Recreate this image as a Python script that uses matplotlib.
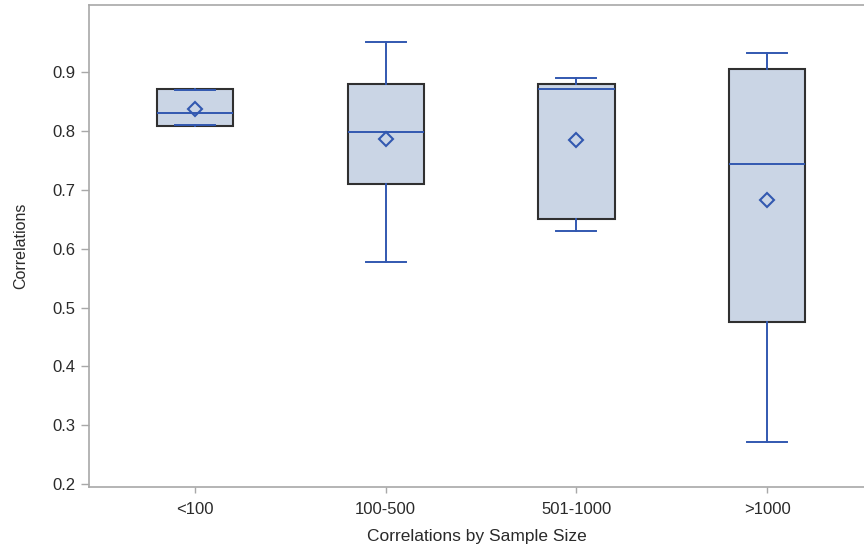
import numpy as np
import matplotlib.pyplot as plt

plt.rcParams['font.family'] = ['Liberation Sans', 'DejaVu Sans']

# box plot summary
groups = ['<100', '100-500', '501-1000', '>1000']
whislo = [0.810, 0.578, 0.630, 0.271]
q1 = [0.808, 0.710, 0.650, 0.475]
med = [0.830, 0.798, 0.871, 0.744]
q3 = [0.871, 0.880, 0.880, 0.905]
whishi = [0.870, 0.950, 0.890, 0.932]
means = [0.837, 0.786, 0.785, 0.682]

blue = '#3258B0'
fill = '#CAD5E5'
grey = '#A8A8A8'

stats = []
for i in range(len(groups)):
    stats.append(dict(label=groups[i], whislo=whislo[i], q1=q1[i], med=med[i],
                      q3=q3[i], whishi=whishi[i], mean=means[i], fliers=[]))

fig = plt.figure(figsize=(8.64, 5.48), dpi=100)
ax = fig.add_axes([0.103, 0.112, 0.897, 0.878])

ax.bxp(stats, positions=np.arange(len(groups)), widths=0.40, capwidths=0.21,
       showmeans=True, patch_artist=True, zorder=2,
       boxprops=dict(facecolor=fill, edgecolor='#303030', linewidth=1.5),
       whiskerprops=dict(color=blue, linewidth=1.4),
       capprops=dict(color=blue, linewidth=1.4),
       medianprops=dict(color=blue, linewidth=1.4),
       meanprops=dict(marker='D', markerfacecolor='none', markeredgecolor=blue,
                      markeredgewidth=1.5, markersize=7))

ax.set_xlim(-0.556, 3.508)
ax.set_ylim(0.196, 1.0126)
ax.set_yticks([0.2, 0.3, 0.4, 0.5, 0.6, 0.7, 0.8, 0.9])
ax.set_yticklabels(['0.2', '0.3', '0.4', '0.5', '0.6', '0.7', '0.8', '0.9'])
ax.set_xticks(np.arange(len(groups)))
ax.set_xticklabels(groups)

for s in ['left', 'bottom', 'top']:
    ax.spines[s].set_color(grey)
    ax.spines[s].set_linewidth(1.2)
ax.spines['right'].set_visible(False)
ax.tick_params(colors=grey, labelcolor='#2a2a2a', labelsize=12, width=1)
ax.tick_params(axis='x', length=4, pad=7)
ax.tick_params(axis='y', length=5.5, pad=4)

ax.set_xlabel('Correlations by Sample Size', fontsize=12.5, color='#2a2a2a', labelpad=9)
ax.set_ylabel('Correlations', fontsize=11.5, color='#2a2a2a')
ax.yaxis.set_label_coords(-0.078, 0.5)

fig.savefig('out.png', dpi=100)
